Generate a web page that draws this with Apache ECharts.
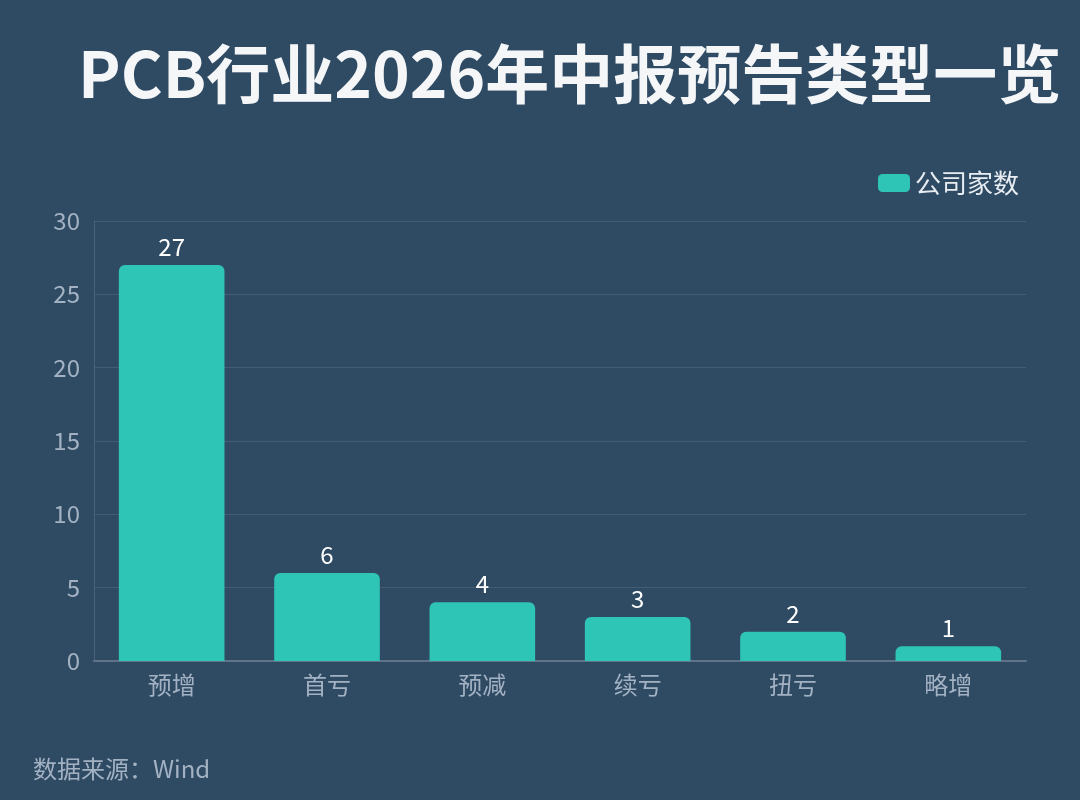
<!DOCTYPE html>
<html>
<head>
<meta charset="utf-8">
<script src="https://cdn.jsdelivr.net/npm/echarts@6/dist/echarts.min.js"></script>
<style>
html, body { margin: 0; padding: 0; background: #2f4a63; }
#main { width: 1080px; height: 800px; }
</style>
</head>
<body>
<div id="main"></div>
<script>
var categories = ['预增', '首亏', '预减', '续亏', '扭亏', '略增'];
var companyCounts = [27, 6, 4, 3, 2, 1];
var yTicks = [0, 5, 10, 15, 20, 25, 30];

var myChart = echarts.init(document.getElementById('main'));
var labelColor = '#a3b2c3';
var font = '"Noto Sans CJK SC", "Noto Sans", sans-serif';

var option = {
    backgroundColor: '#2f4a63',
    title: {
        text: 'PCB行业2026年中报预告类型一览',
        left: 73,
        top: 37,
        textStyle: {
            color: '#f4f6f8',
            fontSize: 64,
            fontWeight: 'bold',
            fontFamily: font
        }
    },
    legend: {
        right: 56,
        top: 165,
        itemWidth: 32,
        itemHeight: 18,
        itemGap: 8,
        textStyle: { color: '#e8edf2', fontSize: 26, fontFamily: font },
        data: ['公司家数']
    },
    graphic: [{
        type: 'text',
        left: 33,
        top: 757,
        style: {
            text: '数据来源：Wind',
            fill: labelColor,
            fontSize: 24,
            fontFamily: font
        }
    }],
    grid: { left: 94, right: 54, top: 221, bottom: 139 },
    xAxis: {
        type: 'category',
        data: categories,
        axisLine: { lineStyle: { color: '#5f7489', width: 2 } },
        axisTick: { show: false },
        axisLabel: { color: labelColor, fontSize: 24, margin: 12, fontFamily: font }
    },
    yAxis: {
        type: 'value',
        min: yTicks[0],
        max: yTicks[yTicks.length - 1],
        interval: 5,
        axisLine: { show: true, lineStyle: { color: '#4a6178', width: 1 } },
        axisTick: { show: false },
        splitLine: { lineStyle: { color: '#445d75', width: 1 } },
        axisLabel: { color: labelColor, fontSize: 24, margin: 14, fontFamily: font }
    },
    series: [{
        name: '公司家数',
        type: 'bar',
        data: companyCounts,
        barWidth: '68%',
        itemStyle: { color: '#2ec4b6', borderRadius: [6, 6, 0, 0] },
        label: {
            show: true,
            position: 'top',
            color: '#ffffff',
            fontSize: 24,
            distance: 6,
            fontFamily: font
        }
    }]
};

myChart.setOption(option);
</script>
</body>
</html>
